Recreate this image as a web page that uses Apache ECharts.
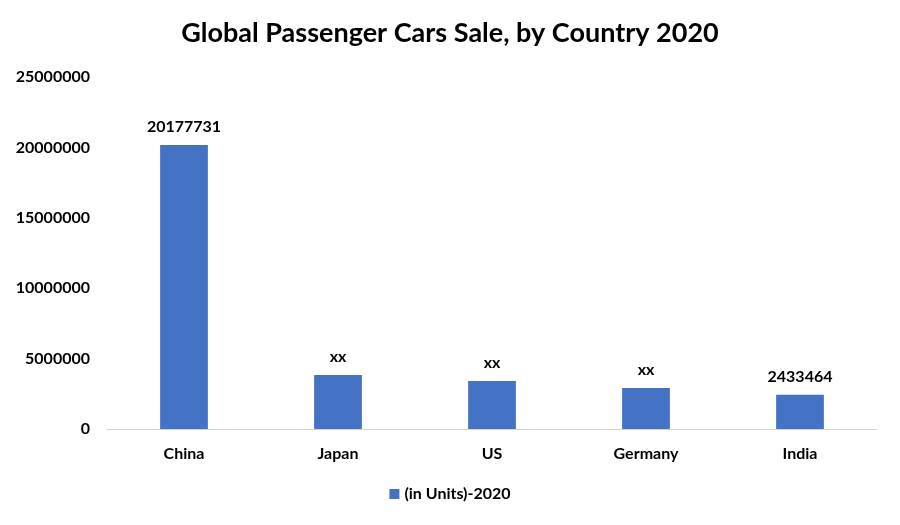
<!DOCTYPE html>
<html>
<head>
<meta charset="utf-8">
<script src="https://cdn.jsdelivr.net/npm/echarts@6/dist/echarts.min.js"></script>
<style>html,body{margin:0;padding:0;background:#fff;}#c{width:900px;height:525px;}</style>
</head>
<body>
<div id="c"></div>
<script>
const categories = ['China', 'Japan', 'US', 'Germany', 'India'];
const values = [20177731, 3840000, 3410000, 2910000, 2433464];
const valueLabels = ['20177731', 'xx', 'xx', 'xx', '2433464'];
const seriesName = '(in Units)-2020';
const yTicks = [0, 5000000, 10000000, 15000000, 20000000, 25000000];

const FONT = 'Lato, "Open Sans", sans-serif';
const chart = echarts.init(document.getElementById('c'));
chart.setOption({
  animation: false,
  title: {
    text: 'Global Passenger Cars Sale, by Country 2020',
    left: 'center', top: 15,
    textStyle: { fontFamily: FONT, fontWeight: 'bold', fontSize: 27, color: '#000' }
  },
  legend: {
    bottom: 18, left: 'center',
    itemWidth: 10, itemHeight: 10, icon: 'rect',
    textStyle: { fontFamily: FONT, fontWeight: 'bold', fontSize: 16, color: '#000' },
    data: [seriesName]
  },
  grid: { left: 107, right: 23, top: 77, bottom: 96 },
  xAxis: {
    type: 'category', data: categories,
    axisLine: { lineStyle: { color: '#d0d0d0' } },
    axisTick: { show: false },
    axisLabel: { fontFamily: FONT, fontWeight: 'bold', fontSize: 16, color: '#000', margin: 17 }
  },
  yAxis: {
    type: 'value', min: yTicks[0], max: yTicks[yTicks.length - 1], interval: yTicks[1] - yTicks[0],
    splitLine: { show: false },
    axisLine: { show: false }, axisTick: { show: false },
    axisLabel: { fontFamily: FONT, fontWeight: 'bold', fontSize: 16, color: '#000', margin: 17,
      formatter: v => String(v) }
  },
  series: [{
    name: seriesName, type: 'bar', data: values, barWidth: '31%',
    itemStyle: { color: '#4472c4' },
    label: {
      show: true, position: 'top', distance: 10,
      fontFamily: FONT, fontWeight: 'bold', fontSize: 16, color: '#000',
      formatter: p => valueLabels[p.dataIndex]
    }
  }]
});
</script>
</body>
</html>
